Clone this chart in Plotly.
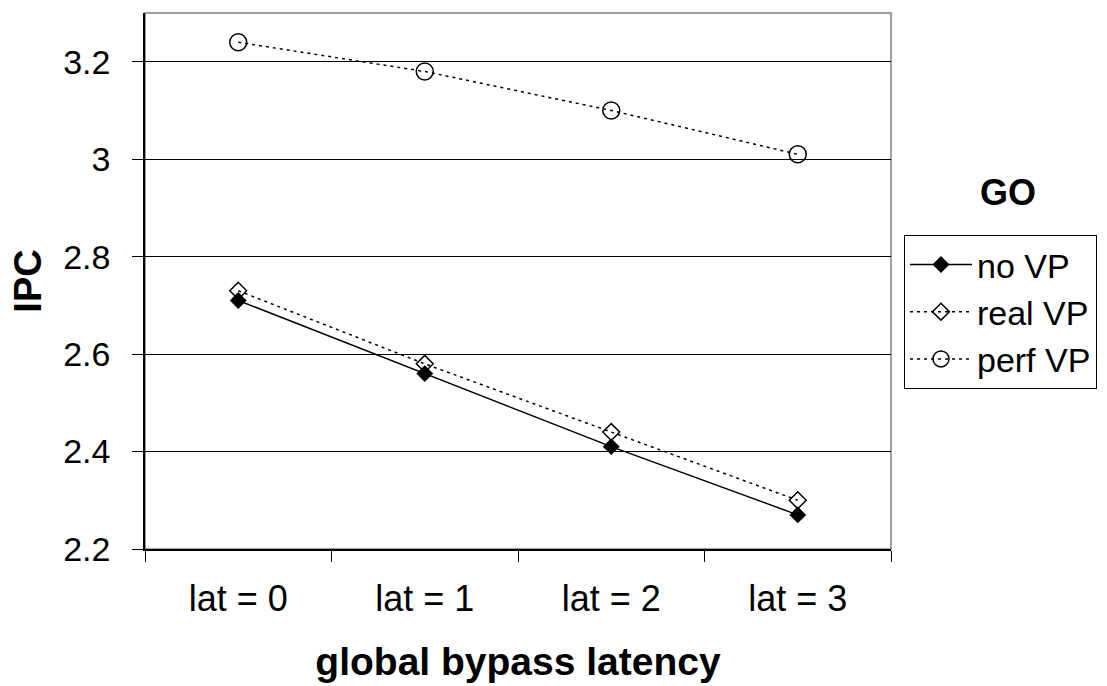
import plotly.graph_objects as go

# Global bypass latency sweep for the GO benchmark
categories = ["lat = 0", "lat = 1", "lat = 2", "lat = 3"]
no_vp = [2.71, 2.56, 2.41, 2.27]
real_vp = [2.73, 2.58, 2.44, 2.30]
perf_vp = [3.24, 3.18, 3.10, 3.01]

FONT = "Liberation Sans, Arial, sans-serif"

fig = go.Figure()
fig.add_trace(go.Scatter(
    x=categories, y=no_vp, name="no VP", mode="lines+markers",
    line=dict(color="black", width=1.5),
    marker=dict(symbol="diamond", size=13, color="black"),
))
fig.add_trace(go.Scatter(
    x=categories, y=real_vp, name="real VP", mode="lines+markers",
    line=dict(color="black", width=1.5, dash="3px,4px"),
    marker=dict(symbol="diamond-open", size=13, color="black", line=dict(width=1.5)),
))
fig.add_trace(go.Scatter(
    x=categories, y=perf_vp, name="perf VP", mode="lines+markers",
    line=dict(color="black", width=1.5, dash="3px,4px"),
    marker=dict(symbol="circle-open", size=17, color="black", line=dict(width=1.5)),
))

# gray frame on the top and right of the plot area
fig.add_shape(type="rect", xref="paper", yref="paper", x0=0, x1=1, y0=0, y1=1,
              line=dict(color="#808080", width=1.5), layer="below")

fig.add_annotation(text="<b>GO</b>", xref="paper", yref="paper",
                   x=1.157, y=0.665, xanchor="center", yanchor="middle",
                   showarrow=False, font=dict(family=FONT, size=36, color="black"))

fig.update_layout(
    width=1107, height=686,
    margin=dict(l=145, r=216, t=13, b=137, autoexpand=False),
    paper_bgcolor="white", plot_bgcolor="white",
    font=dict(family=FONT, color="black"),
    showlegend=True,
    legend=dict(
        x=1.0174, y=0.586, xanchor="left", yanchor="top",
        bordercolor="black", borderwidth=1, bgcolor="white",
        font=dict(family=FONT, size=34, color="black"),
        itemwidth=62, tracegroupgap=0,
    ),
    xaxis=dict(
        type="category", range=[-0.5, 3.5], tickson="boundaries",
        ticks="outside", ticklen=11, tickcolor="black",
        showgrid=False, showline=True, linecolor="black", linewidth=1.5,
        tickfont=dict(family=FONT, size=36, color="black"),
        ticklabelstandoff=17,
        title=dict(text="<b>global bypass latency</b>", standoff=30,
                   font=dict(family=FONT, size=39, color="black")),
    ),
    yaxis=dict(
        range=[2.2, 3.3], dtick=0.2, tick0=2.2,
        ticks="outside", ticklen=11, tickcolor="black",
        showgrid=True, gridcolor="black", gridwidth=1,
        showline=True, linecolor="black", linewidth=1.5, zeroline=False,
        tickfont=dict(family=FONT, size=34, color="black"),
        ticklabelstandoff=15,
        title=dict(text="<b>IPC</b>", standoff=10,
                   font=dict(family=FONT, size=38, color="black")),
    ),
)

fig.write_html("out.html")
